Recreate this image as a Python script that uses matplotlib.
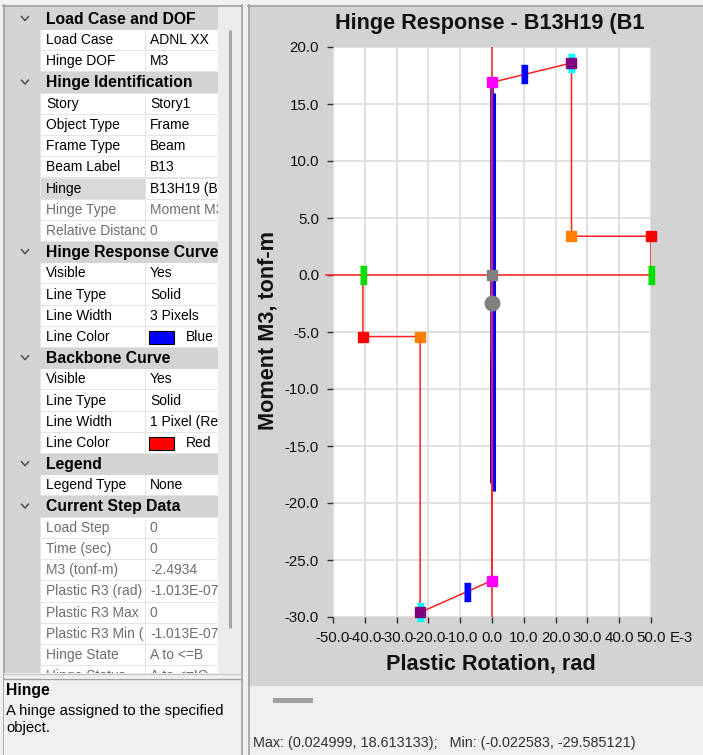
import matplotlib
matplotlib.use("Agg")
import matplotlib.pyplot as plt
from matplotlib.patches import Rectangle
from matplotlib.transforms import Bbox

W, H = 703, 755
UI_FONT = ["Liberation Sans", "DejaVu Sans"]

# ---- property grid content: (kind, label, value) ; kind "H" = category header
grid_rows = [
    ("H", "Load Case and DOF", ""),
    ("", "Load Case", "ADNL XX"),
    ("", "Hinge DOF", "M3"),
    ("H", "Hinge Identification", ""),
    ("", "Story", "Story1"),
    ("", "Object Type", "Frame"),
    ("", "Frame Type", "Beam"),
    ("", "Beam Label", "B13"),
    ("", "Hinge", "B13H19 (B13)"),
    ("", "Hinge Type", "Moment M3"),
    ("", "Relative Distanc", "0"),
    ("H", "Hinge Response Curve", ""),
    ("", "Visible", "Yes"),
    ("", "Line Type", "Solid"),
    ("", "Line Width", "3 Pixels"),
    ("", "Line Color", "Blue"),
    ("H", "Backbone Curve", ""),
    ("", "Visible", "Yes"),
    ("", "Line Type", "Solid"),
    ("", "Line Width", "1 Pixel (Rest)"),
    ("", "Line Color", "Red"),
    ("H", "Legend", ""),
    ("", "Legend Type", "None"),
    ("H", "Current Step Data", ""),
    ("", "Load Step", "0"),
    ("", "Time (sec)", "0"),
    ("", "M3 (tonf-m)", "-2.4934"),
    ("", "Plastic R3 (rad)", "-1.013E-07"),
    ("", "Plastic R3 Max", "0"),
    ("", "Plastic R3 Min (", "-1.013E-07"),
    ("", "Hinge State", "A to <=B"),
    ("", "Hinge Status", "A to <=IO"),
]
disabled_rows = [9, 10, 24, 25, 26, 27, 28, 29, 30, 31]
swatch_colors = {15: "#0000ff", 20: "#ff0000"}

# ---- chart data (rotation in E-3 rad, moment in tonf-m)
x_ticks = [-50, -40, -30, -20, -10, 0, 10, 20, 30, 40, 50]
y_ticks = [-30, -25, -20, -15, -10, -5, 0, 5, 10, 15, 20]

backbone_rot = [-40.6, -40.6, -22.6, -22.6, 0.0, 0.0, 25.0, 25.0, 50.0, 50.0]
backbone_mom = [0.0, -5.4, -5.4, -29.6, -26.8, 16.9, 18.6, 3.4, 3.4, 0.0]

response_rot = [0.0, 0.0, 0.7, 0.7]
response_mom = [16.6, -18.2, 15.8, -19.0]

io_rot, io_mom = [10.0, -8.0], [17.6, -27.8]            # blue ticks
yield_rot, yield_mom = [0.0, 0.0], [16.9, -26.8]        # magenta
cap_rot, cap_mom = [25.0, -22.6], [18.6, -29.6]         # purple / cyan
resid_rot, resid_mom = [25.0, -22.6], [3.4, -5.4]       # orange
ult_rot, ult_mom = [50.0, -40.6], [3.4, -5.4]           # red
fail_rot, fail_mom = [50.0, -40.6], [0.0, 0.0]          # green
origin_rot, origin_mom = [0.0], [0.0]
current_rot, current_mom = [0.0], [-2.4934]

fig = plt.figure(figsize=(W / 100, H / 100), dpi=100)
fig.patch.set_facecolor("#f0f0f0")

bg = fig.add_axes([0, 0, 1, 1])
bg.set_xlim(0, W)
bg.set_ylim(H, 0)
bg.axis("off")


def rect(x, y, w, h, color, z=1, **kw):
    bg.add_patch(Rectangle((x, y), w, h, facecolor=color, edgecolor="none", zorder=z, **kw))


def clipbox(x0, y0, x1, y1):
    return Bbox.from_extents(x0, H - y1, x1, H - y0)


# ---- left property grid
rect(0, 0, 243, H, "#f0f0f0", 0)
rect(4, 6, 214, 667, "#d4d4d4")
rect(218, 6, 22, 667, "#ececec")
bg.plot([229.5, 229.5], [30, 628], color="#a6a6a6", lw=2.2, zorder=3, solid_capstyle="butt")
bg.plot([3, 242], [5.5, 5.5], color="#a0a0a0", lw=1.2, zorder=3)
bg.plot([241.5, 241.5], [5, H], color="#a0a0a0", lw=1.2, zorder=3)
bg.plot([3.5, 3.5], [5, H], color="#a0a0a0", lw=1.2, zorder=3)

row_h = 21.2
top = 8.4
for i, (kind, label, value) in enumerate(grid_rows):
    y0 = top + i * row_h
    yc = y0 + row_h / 2
    if y0 > 673:
        break
    if kind == "H":
        bg.plot([21.5, 25, 28.5], [yc - 2.5, yc + 1.5, yc - 2.5], color="#505050", lw=1.1, zorder=4)
        bg.text(46, yc, label, fontsize=11.3, fontweight="bold", family=UI_FONT,
                va="center", ha="left", color="black", zorder=4)
        continue
    rect(40, y0, 178, row_h, "#e4e4e4", 2)
    lab_bg = "#d9d9d9" if label == "Hinge" and value.startswith("B13H19") else "white"
    rect(41, y0 + 0.5, 104, row_h - 1, lab_bg, 2)
    rect(146, y0 + 0.5, 72, row_h - 1, "white", 2)
    col = "#6d6d6d" if i in disabled_rows else "black"
    t1 = bg.text(46, yc, label, fontsize=10, family=UI_FONT, va="center", ha="left",
                 color=col, zorder=4)
    t1.set_clip_box(clipbox(41, y0, 145, 673))
    t1.set_clip_on(True)
    vx = 150
    if i in swatch_colors:
        bg.add_patch(Rectangle((149, yc - 6.5), 25, 13, facecolor=swatch_colors[i],
                               edgecolor="black", lw=0.8, zorder=4))
        vx = 186
    t2 = bg.text(vx, yc, value, fontsize=10, family=UI_FONT, va="center", ha="left",
                 color=col, zorder=4)
    t2.set_clip_box(clipbox(146, y0, 218, 673))
    t2.set_clip_on(True)

# description box
rect(4, 673, 237, 5, "#f0f0f0", 5)
bg.plot([4, 241], [673.5, 673.5], color="#c8c8c8", lw=1, zorder=6)
bg.plot([4, 241], [678.5, 678.5], color="#a0a0a0", lw=1, zorder=6)
rect(4, 679, 237, H - 679, "#f0f0f0", 5)
bg.text(6, 690, "Hinge", fontsize=11.3, fontweight="bold", family=UI_FONT, va="center", zorder=6)
bg.text(6, 711, "A hinge assigned to the specified", fontsize=10.7, family=UI_FONT, va="center", zorder=6)
bg.text(6, 728, "object.", fontsize=10.7, family=UI_FONT, va="center", zorder=6)

# ---- right chart panel
rect(248, 6, W - 248, 680, "#d3d3d3", 1)
bg.plot([248, W], [5.5, 5.5], color="#a0a0a0", lw=1.2, zorder=3)
bg.plot([248.5, 248.5], [5, H], color="#a0a0a0", lw=1.2, zorder=3)
rect(272.5, 697.5, 40, 5, "#a0a0a0", 3)
bg.text(253, 743, "Max: (0.024999, 18.613133);   Min: (-0.022583, -29.585121)",
        fontsize=10.35, family=UI_FONT, va="center", ha="left", color="#303030", zorder=3)

bg.text(490, 23, "Hinge Response - B13H19 (B1", fontsize=15.6, fontweight="bold",
        family=UI_FONT, ha="center", va="center", color="#111111", zorder=3)
bg.text(268, 331, "Moment M3, tonf-m", fontsize=15.6, fontweight="bold", family=UI_FONT,
        rotation=90, ha="center", va="center", color="#111111", zorder=3)
bg.text(491, 664, "Plastic Rotation, rad", fontsize=15.6, fontweight="bold", family=UI_FONT,
        ha="center", va="center", color="#111111", zorder=3)
bg.text(670, 638, "E-3", fontsize=10.8, family=UI_FONT, ha="left", va="center",
        color="#111111", zorder=3)

ax = fig.add_axes([333 / W, (H - 617) / H, 318 / W, 570 / H])
ax.set_facecolor("white")
ax.set_xlim(-50, 50)
ax.set_ylim(-30, 20)
for s in ax.spines.values():
    s.set_visible(False)
ax.set_xticks(x_ticks)
ax.set_yticks(y_ticks)
ax.set_xticklabels([f"{v:.1f}" for v in x_ticks], fontsize=10.8, family=UI_FONT, color="#111111")
ax.set_yticklabels([f"{v:.1f}" for v in y_ticks], fontsize=10.8, family=UI_FONT, color="#111111")
ax.tick_params(axis="both", direction="out", length=4.5, width=1, color="#303030", pad=5.5)
ax.grid(True, color="#dcdcdc", lw=1.2)
ax.set_axisbelow(True)

ax.plot(response_rot, response_mom, color="#0000ff", lw=2.6, zorder=2, solid_capstyle="butt")
ax.axhline(0, color="#ff2020", lw=1.1, zorder=3)
ax.axvline(0, color="#ff2020", lw=1.1, zorder=3)
ax.plot([-52.3, -50], [0, 0], color="#ff2020", lw=1.1, zorder=3, clip_on=False)
ax.plot(backbone_rot, backbone_mom, color="#ff2020", lw=1.1, zorder=3)

bar = [(-0.14, -0.5), (0.14, -0.5), (0.14, 0.5), (-0.14, 0.5)]
bar_w = [(-0.17, -0.5), (0.17, -0.5), (0.17, 0.5), (-0.17, 0.5)]
ms_sq = 7.3
mk = dict(ls="none", clip_on=False)
ax.plot(cap_rot, cap_mom, marker=bar, ms=13, color="#00ffff", zorder=4, **mk)
ax.plot(fail_rot, fail_mom, marker=bar, ms=13, color="#00e000", zorder=4, **mk)
ax.plot(io_rot, io_mom, marker=bar_w, ms=13, color="#0000ff", zorder=4, **mk)
ax.plot(yield_rot, yield_mom, marker="s", ms=ms_sq, color="#ff00ff", zorder=5, **mk)
ax.plot(cap_rot, cap_mom, marker="s", ms=ms_sq, color="#800080", zorder=5, **mk)
ax.plot(resid_rot, resid_mom, marker="s", ms=ms_sq, color="#ff8000", zorder=5, **mk)
ax.plot(ult_rot, ult_mom, marker="s", ms=ms_sq, color="#ff0000", zorder=5, **mk)
ax.plot(origin_rot, origin_mom, marker="s", ms=ms_sq, color="#808080", zorder=5, **mk)
ax.plot(current_rot, current_mom, marker="o", ms=10.5, color="#808080", zorder=5, **mk)

fig.savefig("out.png", dpi=100, facecolor=fig.get_facecolor())
